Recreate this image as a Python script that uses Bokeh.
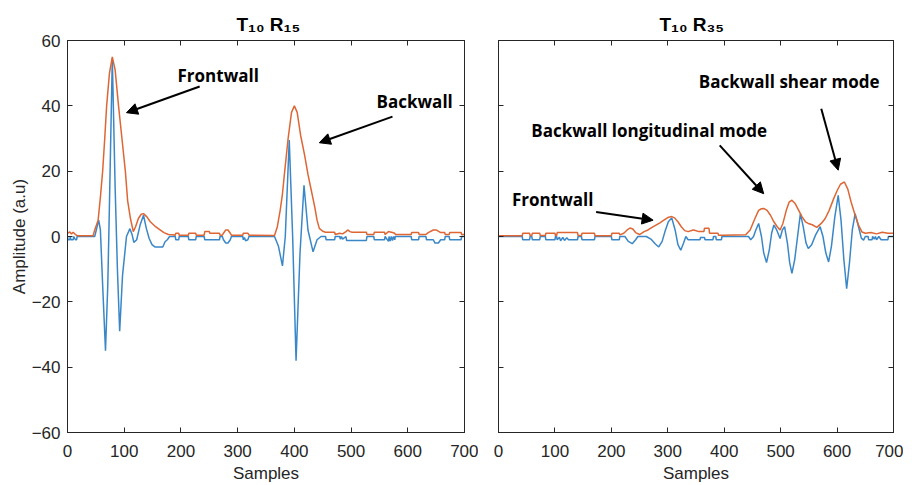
from bokeh.plotting import figure
from bokeh.layouts import row, column
from bokeh.models import (Label, Arrow, NormalHead, LinearAxis, CustomJSTickFormatter, Range1d,
                          FixedTicker, Spacer)
from bokeh.embed import file_html
from bokeh.resources import INLINE

# ---------------- data ----------------
x_ticks = [0, 100, 200, 300, 400, 500, 600, 700]
y_ticks = [-60, -40, -20, 0, 20, 40, 60]
titles = ["T\u2081\u2080 R\u2081\u2085", "T\u2081\u2080 R\u2083\u2085"]

# Left panel T10 R15 : raw A-scan (blue)
l_sig_x = [0, 1, 4, 5, 6, 10, 11, 14, 16, 17, 48, 55, 58, 62, 67, 71, 74, 79, 84, 88, 92, 97, 104,
           110, 114, 117, 122, 128, 134, 139, 144, 149, 154, 168, 172, 176, 180,
           190, 191, 196, 197, 213, 214, 226, 227, 241, 242, 268, 269, 273, 275, 279, 283, 287, 289,
           309, 310, 312, 314, 318, 320, 365, 372, 379, 384, 391, 397, 403, 410, 417, 424, 433, 440, 447,
           455, 456, 471, 472, 480, 481, 483, 485, 491, 492, 527, 528, 540, 541, 559, 560, 566, 567, 569,
           571, 573, 575, 577, 578, 606, 607, 619, 620, 632, 633, 645, 648, 654, 658, 665, 666, 673, 674,
           694, 695, 700]
l_sig_y = [0, -1, -1, 0, -1, -1, 0, -1, -1, 0, 0, 5, 2, -15, -35, -15, 10, 54.5, 15, -10, -29, -12, 0,
           2.4, 0.5, -1.8, -1, 3.5, 6.5, 2.5, -0.6, -2.5, -3.2, -3.2, -1.6, -1, 0,
           0, -1, -1, 0, 0, -1, -1, 0, 0, -1, -1, 0, 0, -1, -2, -2, -1, 0,
           0, -1, -0.3, -1.3, -1, 0, 0, -3, -9, 0, 29.5, 0, -38, -5, 15.7, 2, -4.7, -1, 0,
           0, -1, -1, 0, 0, -0.8, 0, -0.8, 0, -1.2, -1.2, 0, 0, -1, -1, 0, -1.5, 0, -1.4,
           0, -1.2, 0, -1, 0, 0, -1, -1, 0, 0, -1, -1, -2, -2, -1, -1, 0, 0, -1,
           -1, 0, 0]

# Left panel : envelope (orange)
l_env_x = [0, 4, 7, 10, 14, 18, 45, 48, 54, 58, 62, 66, 69, 74, 79, 84, 90, 96, 102, 106, 111, 116,
           120, 125, 130, 134, 140, 146, 154, 162, 170, 178, 186,
           190, 191, 196, 197, 213, 214, 226, 227, 241, 242, 250, 251, 268, 269, 273, 275, 279, 283, 287, 289,
           309, 310, 318, 320, 365, 370, 375, 379, 383, 389, 395, 400, 405, 411, 418, 424, 430, 436, 440,
           444, 450, 455, 471, 472, 480, 485, 491, 494, 498, 502, 527, 528, 540, 541, 559, 560, 566, 569,
           573, 577, 578, 606, 607, 619, 620, 632, 636, 645, 650, 658, 665, 666, 673, 674, 694, 695, 700]
l_env_y = [1, 1.4, 0.8, 1.3, 0.6, 0.2, 0.2, 2, 5, 12, 20, 31, 40, 50, 55, 51, 40, 30, 20, 11, 5.5, 1.5,
           3, 5.5, 6.8, 7, 6, 4.5, 3.2, 2.2, 1.2, 0.6, 0.5,
           0.4, 1, 1, 0.4, 0.4, 1, 1, 0.4, 0.4, 1.5, 1.5, 1, 1, 0.4, 0.4, 1, 2, 2, 1, 0.4,
           0.4, 1, 1, 0.4, 0.3, 3, 8, 13, 20, 30, 38, 40, 38, 31, 25, 19, 14, 9, 5,
           2.5, 1.6, 1.3, 1.3, 0.6, 1, 0.8, 1.5, 2, 1.5, 1.3, 1.3, 0.6, 0.6, 1.3, 1.3, 0.6, 1.5, 1.4,
           1.2, 1, 0.6, 0.6, 1.2, 1.2, 0.6, 0.6, 1.2, 2, 2, 1.2, 1.2, 0.6, 0.6, 1.2, 1.2, 0.6, 0.6]

# Right panel T10 R35 : raw A-scan (blue)
r_sig_x = [0, 42, 43, 55, 56, 59, 60, 73, 74, 83, 84, 100, 101, 103, 104, 108, 110, 114, 117, 121, 124,
           140, 141, 147, 148, 170, 171, 200, 201, 214, 215, 224, 230, 237, 243, 247, 262, 270, 278, 284,
           290, 295, 301, 307, 313, 318, 323, 328, 332, 336, 345, 350, 357, 358, 365, 366, 380, 381, 385,
           386, 395, 396, 443, 447, 452, 456, 461, 466, 470, 475, 480, 484, 488, 493, 499, 503, 507, 512,
           516, 520, 525, 530, 535, 540, 545, 549, 555, 562, 570, 575, 580, 585, 590, 596, 602, 607, 612,
           617, 622, 627, 632, 638, 643, 647, 650, 655, 656, 662, 663, 666, 668, 670, 674, 678, 690, 691, 700]
r_sig_y = [0, 0, -1, -1, 0, 0, -1, -1, 0, 0, -1, -1, 0, 0, -1, -0.2, -1.3, -0.3, -1.2, -0.4, -1,
           -1, 0, 0, -1, -1, 0, 0, -1, -1, 0, 0, -1.5, -2.2, -1, 0, 0, -0.8, -2.3, -3.2,
           -1.5, 1.5, 4.5, 5.7, 2, -2.5, -4.2, -2, 0, -1, -1, -1, -1, -0.3, -0.3, -1, -1, 0, 0,
           -1, -1, 0, 0, -1, 0, 2, 4, 0, -5, -8, -4, 1, 3.5, 2, -0.6, 2, 3, -2,
           -8, -11.3, -7, 0, 7, 3, -2, -3.7, -2.5, 0.5, 3, 0, -5, -7.8, -3, 6, 12.6, 5, -7,
           -16, -8, 2, 7, 3, -0.5, -1.1, 0, 0, -1, -1, 0, -0.8, 0, -1, 0, -1, -1, 0, 0]

# Right panel : envelope (orange)
r_env_x = [0, 42, 43, 55, 56, 59, 60, 73, 74, 83, 84, 100, 101, 103, 104, 140, 141, 147, 148, 170, 171,
           200, 201, 214, 215, 222, 228, 233, 238, 243, 250, 258, 265, 272, 279, 286, 293, 300, 307, 312,
           318, 324, 330, 336, 345, 346, 355, 356, 364, 365, 373, 374, 389, 390, 397, 438, 446, 452, 457,
           461, 466, 470, 476, 482, 488, 494, 499, 504, 510, 515, 520, 526, 532, 538, 544, 549, 556, 564,
           572, 579, 586, 594, 600, 606, 613, 619, 625, 632, 638, 644, 650, 660, 670, 680, 690, 700]
r_env_y = [0.2, 0.2, 1, 1, 0.3, 0.3, 1, 1, 0.3, 0.3, 1, 1, 0.3, 0.3, 1.2, 1.2, 0.3, 0.3, 1, 1, 0.2,
           0.2, 1, 1, 0.5, 1, 2, 2.6, 2.3, 1.2, 0.6, 1.5, 2, 2.8, 3.5, 4.2, 5, 5.8, 6.1, 5.7,
           4.5, 3, 1.8, 1.5, 2, 2, 1.5, 1.5, 1.5, 2.5, 2.5, 1, 1, 0.4, 0.4, 0.5, 2, 4.5, 6.5,
           8, 8.5, 8.6, 8, 6.5, 4.5, 3, 2, 4, 8, 10.5, 11.1, 10, 8, 6, 4.5, 4, 3.6, 2.8,
           4, 5.5, 8, 11.6, 14, 16, 16.7, 14.5, 10.5, 6.5, 3.5, 1.4, 1, 1.2, 0.8, 1.3, 1, 1]

BLUE = "#3a87c8"
ORANGE = "#de6634"
AXC = "#262626"
SANS = "Liberation Sans"
ANN = "Open Sans"


def make_fig(fw, bl, br, show_labels, title_text, title_offset):
    p = figure(frame_width=fw, frame_height=392,
               x_range=Range1d(0, 700), y_range=Range1d(-60, 60),
               output_backend="svg", toolbar_location=None,
               min_border_left=bl, min_border_right=br, min_border_top=0, min_border_bottom=0,
               background_fill_color="white", border_fill_color="white")
    p.title.text = title_text
    p.title.text_font = SANS
    p.title.text_font_size = "19px"
    p.title.text_font_style = "bold"
    p.title.text_color = "black"
    p.title.align = "left"
    p.title.offset = title_offset
    p.title.standoff = 12
    p.grid.visible = False
    p.outline_line_color = AXC
    p.outline_line_width = 1
    for ax in (p.xaxis[0], p.yaxis[0]):
        ax.major_tick_in = 5
        ax.major_tick_out = 0
        ax.minor_tick_in = 0
        ax.minor_tick_out = 0
        ax.axis_line_color = AXC
        ax.major_tick_line_color = AXC
        ax.major_label_text_color = AXC
        ax.major_label_text_font = SANS
        ax.major_label_text_font_size = "17px"
        ax.axis_label_text_font = SANS
        ax.axis_label_text_font_size = "17px"
        ax.axis_label_text_font_style = "normal"
        ax.axis_label_text_color = AXC
    p.xaxis.ticker = FixedTicker(ticks=x_ticks)
    p.yaxis.ticker = FixedTicker(ticks=y_ticks)
    p.xaxis.axis_label = "Samples"
    p.xaxis.major_label_standoff = 12
    p.xaxis.axis_label_standoff = 4
    if show_labels:
        p.yaxis.axis_label = "Amplitude (a.u)"
        p.yaxis.major_label_standoff = 7
        p.yaxis.axis_label_standoff = 0
    else:
        p.yaxis.formatter = CustomJSTickFormatter(code="return ''")
        p.yaxis.major_label_standoff = 0
    top = LinearAxis(ticker=FixedTicker(ticks=x_ticks), formatter=CustomJSTickFormatter(code="return ''"),
                     major_tick_in=5, major_tick_out=0, minor_tick_in=0, minor_tick_out=0,
                     axis_line_color=AXC, major_tick_line_color=AXC, major_label_standoff=4)
    right = LinearAxis(ticker=FixedTicker(ticks=y_ticks), formatter=CustomJSTickFormatter(code="return ''"),
                       major_tick_in=5, major_tick_out=0, minor_tick_in=0, minor_tick_out=0,
                       axis_line_color=AXC, major_tick_line_color=AXC, major_label_standoff=0)
    p.add_layout(top, "above")
    p.add_layout(right, "right")
    return p


def note(p, x, y, txt):
    p.add_layout(Label(x=x, y=y, text=txt, text_font=ANN, text_font_size="17px",
                       text_font_style="bold", text_color="black",
                       text_align="left", text_baseline="middle"))


def arrow(p, x0, y0, x1, y1):
    p.add_layout(Arrow(x_start=x0, y_start=y0, x_end=x1, y_end=y1, line_width=2, line_color="black",
                       end=NormalHead(size=11, fill_color="black", line_color="black")))


# ---------------- left panel ----------------
p1 = make_fig(397, 60, 14, True, titles[0], 169)
p1.line(l_sig_x, l_sig_y, line_color=BLUE, line_width=1.5)
p1.line(l_env_x, l_env_y, line_color=ORANGE, line_width=1.5)
note(p1, 194, 49.4, "Frontwall")
arrow(p1, 233, 45.9, 104, 37.9)
note(p1, 545, 41.3, "Backwall")
arrow(p1, 573, 36.7, 444, 28.7)

# ---------------- right panel ----------------
p2 = make_fig(395, 20, 10, False, titles[1], 161)
p2.line(r_sig_x, r_sig_y, line_color=BLUE, line_width=1.5)
p2.line(r_env_x, r_env_y, line_color=ORANGE, line_width=1.5)
note(p2, 355, 47.4, "Backwall shear mode")
arrow(p2, 572, 39.1, 602, 20.3)
note(p2, 58, 32.5, "Backwall longitudinal mode")
arrow(p2, 392, 27.9, 470, 13.1)
note(p2, 24, 11.3, "Frontwall")
arrow(p2, 173, 7.5, 274, 5.0)

layout = column(Spacer(height=5), row(Spacer(width=6), p1, p2))
open("out.html", "w").write(file_html(layout, INLINE))
